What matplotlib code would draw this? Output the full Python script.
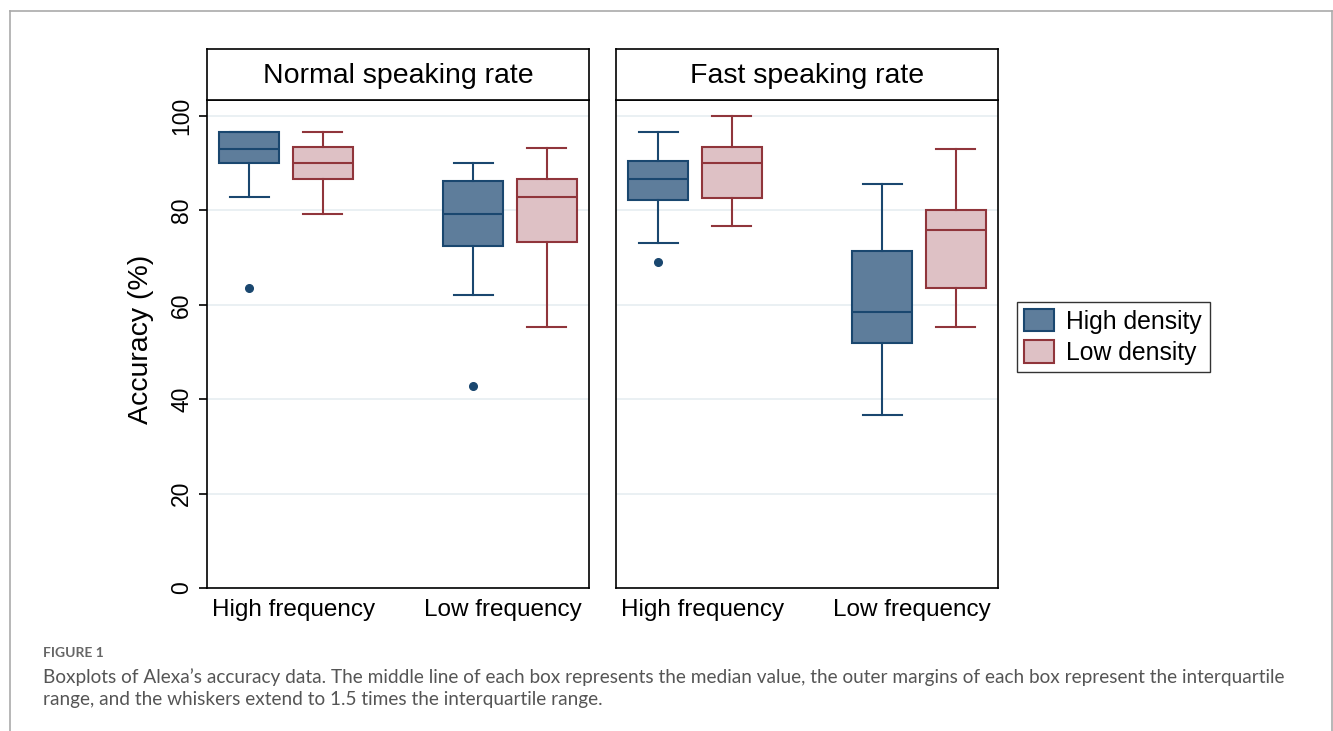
import matplotlib.pyplot as plt
from matplotlib.patches import Patch
from matplotlib.lines import Line2D

plt.rcParams['font.family'] = ['Liberation Sans', 'DejaVu Sans']

# panel titles, groups and series
panels = ['Normal speaking rate', 'Fast speaking rate']
groups = ['High frequency', 'Low frequency']
series = ['High density', 'Low density']

# box summary values: [whislo, q1, med, q3, whishi]
normal_high = [[82.8, 90.0, 93.1, 96.6, 96.6], [62.0, 72.4, 79.3, 86.2, 90.0]]
normal_low = [[79.3, 86.7, 90.0, 93.4, 96.7], [55.2, 73.3, 82.8, 86.7, 93.3]]
fast_high = [[73.2, 82.2, 86.7, 90.5, 96.7], [36.6, 51.9, 58.5, 71.4, 85.7]]
fast_low = [[76.7, 82.6, 90.1, 93.4, 100.0], [55.2, 63.5, 75.8, 80.0, 93.0]]

# outliers per group
normal_high_out = [[63.5], [42.8]]
normal_low_out = [[], []]
fast_high_out = [[69.1], []]
fast_low_out = [[], []]

yticks = [0, 20, 40, 60, 80, 100]

fill_cols = ['#5E7D9B', '#DEC1C5']
edge_cols = ['#1A476F', '#90353B']

panel_data = [
    [(normal_high, normal_high_out), (normal_low, normal_low_out)],
    [(fast_high, fast_high_out), (fast_low, fast_low_out)],
]


def make_stats(vals, outs):
    stats = []
    for v, o in zip(vals, outs):
        stats.append({'whislo': v[0], 'q1': v[1], 'med': v[2], 'q3': v[3],
                      'whishi': v[4], 'fliers': o})
    return stats


fig = plt.figure(figsize=(13.33, 7.31), dpi=100)

# page frame lines (top, left, right)
fig.add_artist(Line2D([10 / 1333, 1332 / 1333], [1 - 11 / 731] * 2,
                      color='#AAAAAA', lw=1.2, transform=fig.transFigure))
fig.add_artist(Line2D([10 / 1333] * 2, [0, 1 - 11 / 731],
                      color='#AAAAAA', lw=1.2, transform=fig.transFigure))
fig.add_artist(Line2D([1332 / 1333] * 2, [0, 1 - 11 / 731],
                      color='#AAAAAA', lw=1.2, transform=fig.transFigure))

lefts = [207, 616]
width_px = 382
offset = 0.165
box_w = 0.268

for i, (left, title) in enumerate(zip(lefts, panels)):
    ax = fig.add_axes([left / 1333, 143 / 731, width_px / 1333, 488 / 731])
    hax = fig.add_axes([left / 1333, 631 / 731, width_px / 1333, 51 / 731])
    hax.set_xticks([])
    hax.set_yticks([])
    hax.text(0.5, 0.47, title, ha='center', va='center', fontsize=20.5)
    for s in hax.spines.values():
        s.set_linewidth(1.2)

    centers = [1, 2]
    for j in range(2):
        vals, outs = panel_data[i][j]
        pos = [c + (j * 2 - 1) * offset for c in centers]
        ax.bxp(make_stats(vals, outs), positions=pos, widths=box_w,
               patch_artist=True, showfliers=True,
               boxprops=dict(facecolor=fill_cols[j], edgecolor=edge_cols[j], lw=1.5),
               medianprops=dict(color=edge_cols[j], lw=1.5),
               whiskerprops=dict(color=edge_cols[j], lw=1.5),
               capprops=dict(color=edge_cols[j], lw=1.5),
               capwidths=box_w * 0.65,
               flierprops=dict(marker='o', markerfacecolor=edge_cols[j],
                               markeredgecolor=edge_cols[j], markersize=5.5),
               zorder=3)

    ax.set_xlim(0.647, 2.353)
    ax.set_ylim(0, 103.4)
    ax.set_yticks(yticks)
    ax.yaxis.grid(True, color='#E6EEF1', lw=1.2, zorder=0)
    ax.set_axisbelow(True)
    # labels sit a little inward of the group centres
    ax.set_xticks([centers[0] + 0.032, centers[1] - 0.032])
    ax.set_xticklabels(groups, fontsize=17.5)
    ax.tick_params(axis='x', length=0, pad=8)
    for s in ax.spines.values():
        s.set_linewidth(1.2)
    if i == 0:
        ax.set_yticklabels([str(t) for t in yticks], rotation=90, va='center',
                           fontsize=16.5)
        ax.tick_params(axis='y', length=6, width=1.2, pad=4)
        ax.set_ylabel('Accuracy (%)', fontsize=20.5)
        ax.yaxis.set_label_coords(-0.14, 0.51)
    else:
        ax.tick_params(axis='y', length=0, labelleft=False)

handles = [Patch(facecolor=fill_cols[k], edgecolor=edge_cols[k], lw=1.5, label=series[k])
           for k in range(2)]
fig.legend(handles=handles, loc='center left', bbox_to_anchor=(1017 / 1333, 1 - 337 / 731),
           fontsize=17.8, frameon=True, fancybox=False, edgecolor='black',
           handlelength=1.2, handleheight=1.0, borderpad=0.3, labelspacing=0.28,
           handletextpad=0.5, borderaxespad=0)
fig.legends[0].get_frame().set_linewidth(1.0)

fig.text(43 / 1333, 1 - 653 / 731, 'FIGURE 1', fontsize=10, color='#666666',
         fontfamily='Lato', fontweight='bold', va='center')
fig.text(43 / 1333, 1 - 677 / 731,
         "Boxplots of Alexa\u2019s accuracy data. The middle line of each box represents the median value, "
         "the outer margins of each box represent the interquartile",
         fontsize=13.7, color='#555555', fontfamily='Lato', va='center')
fig.text(43 / 1333, 1 - 700 / 731,
         'range, and the whiskers extend to 1.5 times the interquartile range.',
         fontsize=13.7, color='#555555', fontfamily='Lato', va='center')

fig.savefig('out.png', dpi=100)
